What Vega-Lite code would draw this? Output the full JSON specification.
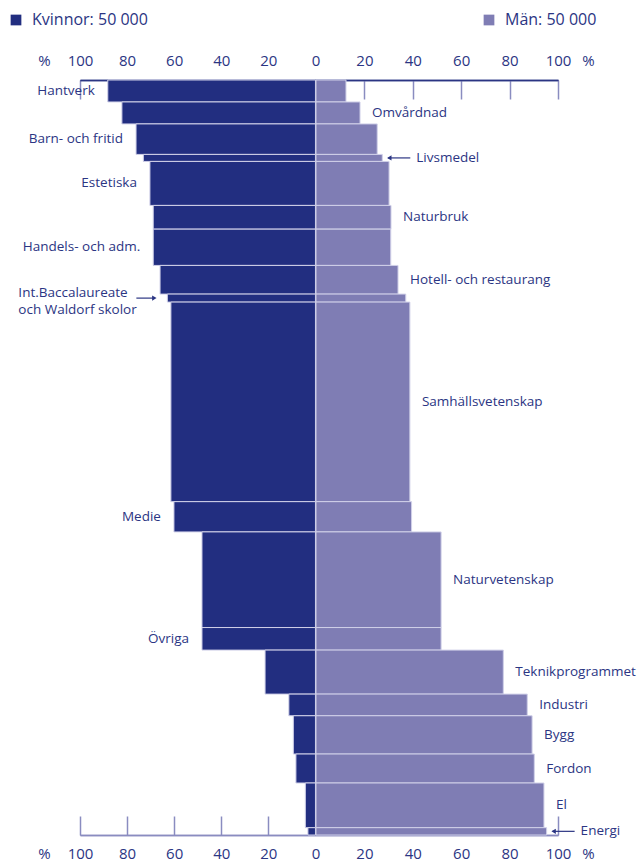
{
  "$schema": "https://vega.github.io/schema/vega-lite/v6.json",
  "width": 478,
  "height": 755,
  "autosize": {"type": "none"},
  "padding": {"left": 80, "top": 80, "right": 81, "bottom": 26},
  "background": "white",
  "config": {
    "view": {"stroke": null},
    "font": "Open Sans",
    "axis": {
      "labelFont": "Open Sans", "labelFontSize": 15, "labelFontWeight": 500, "labelColor": "#2b3583",
      "titleFont": "Open Sans", "titleFontSize": 15, "titleFontWeight": 500, "titleColor": "#2b3583",
      "grid": false, "labelFlush": false, "labelOverlap": false,
      "tickColor": "#8a8cc0", "tickWidth": 1.5, "domainWidth": 1.5,
      "titleAngle": 0, "titleAlign": "center", "titleBaseline": "middle"
    }
  },
  "data": {
    "values": [
      {"program": "Hantverk", "antal": 2910, "kvinnor": 88.2, "män": 12.4},
      {"program": "Omvårdnad", "antal": 2910, "kvinnor": 82.2, "män": 18.2},
      {"program": "Barn- och fritid", "antal": 4040, "kvinnor": 76.2, "män": 25.3},
      {"program": "Livsmedel", "antal": 930, "kvinnor": 73.1, "män": 27.4},
      {"program": "Estetiska", "antal": 5830, "kvinnor": 70.3, "män": 30.2},
      {"program": "Naturbruk", "antal": 3140, "kvinnor": 68.9, "män": 31.0},
      {"program": "Handels- och adm.", "antal": 4810, "kvinnor": 68.9, "män": 30.9},
      {"program": "Hotell- och restaurang", "antal": 3800, "kvinnor": 66.0, "män": 33.9},
      {"program": "Int.Baccalaureate\noch Waldorf skolor", "antal": 1060, "kvinnor": 62.9, "män": 37.1},
      {"program": "Samhällsvetenskap", "antal": 26440, "kvinnor": 61.4, "män": 38.8},
      {"program": "Medie", "antal": 4010, "kvinnor": 60.1, "män": 39.5},
      {"program": "Naturvetenskap", "antal": 12670, "kvinnor": 48.2, "män": 51.7},
      {"program": "Övriga", "antal": 2990, "kvinnor": 48.2, "män": 51.7},
      {"program": "Teknikprogrammet", "antal": 5830, "kvinnor": 21.4, "män": 77.4},
      {"program": "Industri", "antal": 2870, "kvinnor": 11.3, "män": 87.3},
      {"program": "Bygg", "antal": 5070, "kvinnor": 9.4, "män": 89.3},
      {"program": "Fordon", "antal": 3840, "kvinnor": 8.3, "män": 90.2},
      {"program": "El", "antal": 5920, "kvinnor": 4.3, "män": 94.2},
      {"program": "Energi", "antal": 970, "kvinnor": 3.2, "män": 95.3}
    ]
  },
  "transform": [
    {"stack": "antal", "groupby": [], "as": ["y0", "y1"]},
    {"fold": ["y0", "y1"], "as": ["gräns", "yv"]},
    {"joinaggregate": [{"op": "mean", "field": "yv", "as": "ymid"}], "groupby": ["program"]},
    {"filter": {"field": "gräns", "equal": "y0"}}
  ],
  "resolve": {"scale": {"x": "independent"}, "axis": {"x": "independent"}},
  "layer": [
    {
      "mark": {"type": "rect", "stroke": "#d0d0e8", "strokeWidth": 1},
      "encoding": {
        "x": {"field": "kvinnor", "type": "quantitative", "scale": {"domain": [-103, 100], "reverse": true, "nice": false},
          "axis": {"orient": "top", "values": [0, 20, 40, 60, 80, 100], "tickSize": -19, "labelPadding": 39, "labelBaseline": "middle", "domainColor": "#2b3583", "title": "%", "titleX": -36, "titleY": -20}},
        "x2": {"datum": 0},
        "y": {"field": "y0", "type": "quantitative", "scale": {"reverse": true, "nice": false, "zero": true}, "axis": null},
        "y2": {"field": "y1"},
        "color": {"datum": "Kvinnor: 50 000", "type": "nominal",
          "scale": {"domain": ["Kvinnor: 50 000", "Män: 50 000"], "range": ["#222e80", "#7f7db4"]},
          "legend": {"orient": "none", "legendX": -72, "legendY": -68, "direction": "horizontal", "title": null,
            "symbolType": "square", "symbolSize": 115, "symbolStrokeWidth": 0, "labelFont": "Open Sans",
            "labelFontSize": 16, "labelFontWeight": 500, "labelColor": "#2b3583", "labelOffset": 8, "columnPadding": 333, "padding": 0}}
      }
    },
    {
      "mark": {"type": "rect", "stroke": "#d0d0e8", "strokeWidth": 1},
      "encoding": {
        "x": {"field": "män", "type": "quantitative", "scale": {"domain": [-97.5, 100], "nice": false},
          "axis": {"orient": "top", "values": [20, 40, 60, 80, 100], "tickSize": -19, "labelPadding": 39, "labelBaseline": "middle", "domainColor": "#2b3583", "title": "%", "titleX": 508, "titleY": -20}},
        "x2": {"datum": 0},
        "y": {"field": "y0", "type": "quantitative", "scale": {"reverse": true, "nice": false, "zero": true}, "axis": null},
        "y2": {"field": "y1"},
        "color": {"datum": "Män: 50 000", "type": "nominal"}
      }
    },
    {
      "transform": [{"filter": {"field": "program", "oneOf": ["Hantverk", "Barn- och fritid", "Estetiska", "Handels- och adm.", "Medie", "Övriga"]}}],
      "mark": {"type": "text", "align": "right", "baseline": "middle", "dx": -13, "fontSize": 13.5, "fontWeight": 500, "color": "#2b3583"},
      "encoding": {
        "x": {"field": "kvinnor", "type": "quantitative", "scale": {"domain": [-103, 100], "reverse": true, "nice": false},
          "axis": {"orient": "bottom", "values": [0, 20, 40, 60, 80, 100], "tickSize": -19, "labelPadding": 37, "labelBaseline": "middle", "domainColor": "#8a8cc0", "title": "%", "titleX": -36, "titleY": 18}},
        "y": {"field": "ymid", "type": "quantitative", "scale": {"reverse": true, "nice": false, "zero": true}, "axis": null},
        "text": {"field": "program"}
      }
    },
    {
      "transform": [{"filter": {"field": "program", "oneOf": ["Omvårdnad", "Naturbruk", "Hotell- och restaurang", "Samhällsvetenskap", "Naturvetenskap", "Teknikprogrammet", "Industri", "Bygg", "Fordon", "El"]}}],
      "mark": {"type": "text", "align": "left", "baseline": "middle", "dx": 12, "fontSize": 13.5, "fontWeight": 500, "color": "#2b3583"},
      "encoding": {
        "x": {"field": "män", "type": "quantitative", "scale": {"domain": [-97.5, 100], "nice": false},
          "axis": {"orient": "bottom", "values": [20, 40, 60, 80, 100], "tickSize": -19, "labelPadding": 37, "labelBaseline": "middle", "domainColor": "#8a8cc0", "title": "%", "titleX": 508, "titleY": 18}},
        "y": {"field": "ymid", "type": "quantitative", "scale": {"reverse": true, "nice": false, "zero": true}, "axis": null},
        "text": {"field": "program"}
      }
    },
    {
      "transform": [{"filter": {"field": "program", "equal": "Int.Baccalaureate\noch Waldorf skolor"}}],
      "mark": {"type": "text", "align": "left", "baseline": "middle", "dx": -149, "dy": -5, "lineBreak": "\n", "lineHeight": 17, "fontSize": 13.5, "fontWeight": 500, "color": "#2b3583"},
      "encoding": {
        "x": {"field": "kvinnor", "type": "quantitative", "scale": {"domain": [-103, 100], "reverse": true, "nice": false}, "axis": null},
        "y": {"field": "ymid", "type": "quantitative", "scale": {"reverse": true, "nice": false, "zero": true}, "axis": null},
        "text": {"field": "program"}
      }
    },
    {
      "transform": [{"filter": {"field": "program", "equal": "Int.Baccalaureate\noch Waldorf skolor"}}],
      "mark": {"type": "rule", "color": "#2b3583", "strokeWidth": 1.2, "xOffset": -31, "x2Offset": -13},
      "encoding": {
        "x": {"field": "kvinnor", "type": "quantitative", "scale": {"domain": [-103, 100], "reverse": true, "nice": false}, "axis": null},
        "x2": {"field": "kvinnor"},
        "y": {"field": "ymid", "type": "quantitative", "scale": {"reverse": true, "nice": false, "zero": true}, "axis": null}
      }
    },
    {
      "transform": [{"filter": {"field": "program", "equal": "Int.Baccalaureate\noch Waldorf skolor"}}],
      "mark": {"type": "point", "shape": "triangle-right", "filled": true, "size": 26, "opacity": 1, "color": "#2b3583", "xOffset": -13},
      "encoding": {
        "x": {"field": "kvinnor", "type": "quantitative", "scale": {"domain": [-103, 100], "reverse": true, "nice": false}, "axis": null},
        "y": {"field": "ymid", "type": "quantitative", "scale": {"reverse": true, "nice": false, "zero": true}, "axis": null}
      }
    },
    {
      "transform": [{"filter": {"field": "program", "oneOf": ["Livsmedel", "Energi"]}}],
      "mark": {"type": "text", "align": "left", "baseline": "middle", "dx": 34, "fontSize": 13.5, "fontWeight": 500, "color": "#2b3583"},
      "encoding": {
        "x": {"field": "män", "type": "quantitative", "scale": {"domain": [-97.5, 100], "nice": false}, "axis": null},
        "y": {"field": "ymid", "type": "quantitative", "scale": {"reverse": true, "nice": false, "zero": true}, "axis": null},
        "text": {"field": "program"}
      }
    },
    {
      "transform": [{"filter": {"field": "program", "oneOf": ["Livsmedel", "Energi"]}}],
      "mark": {"type": "rule", "color": "#2b3583", "strokeWidth": 1.2, "xOffset": 6, "x2Offset": 28},
      "encoding": {
        "x": {"field": "män", "type": "quantitative", "scale": {"domain": [-97.5, 100], "nice": false}, "axis": null},
        "x2": {"field": "män"},
        "y": {"field": "ymid", "type": "quantitative", "scale": {"reverse": true, "nice": false, "zero": true}, "axis": null}
      }
    },
    {
      "transform": [{"filter": {"field": "program", "oneOf": ["Livsmedel", "Energi"]}}],
      "mark": {"type": "point", "shape": "triangle-left", "filled": true, "size": 26, "opacity": 1, "color": "#2b3583", "xOffset": 7},
      "encoding": {
        "x": {"field": "män", "type": "quantitative", "scale": {"domain": [-97.5, 100], "nice": false}, "axis": null},
        "y": {"field": "ymid", "type": "quantitative", "scale": {"reverse": true, "nice": false, "zero": true}, "axis": null}
      }
    }
  ]
}
